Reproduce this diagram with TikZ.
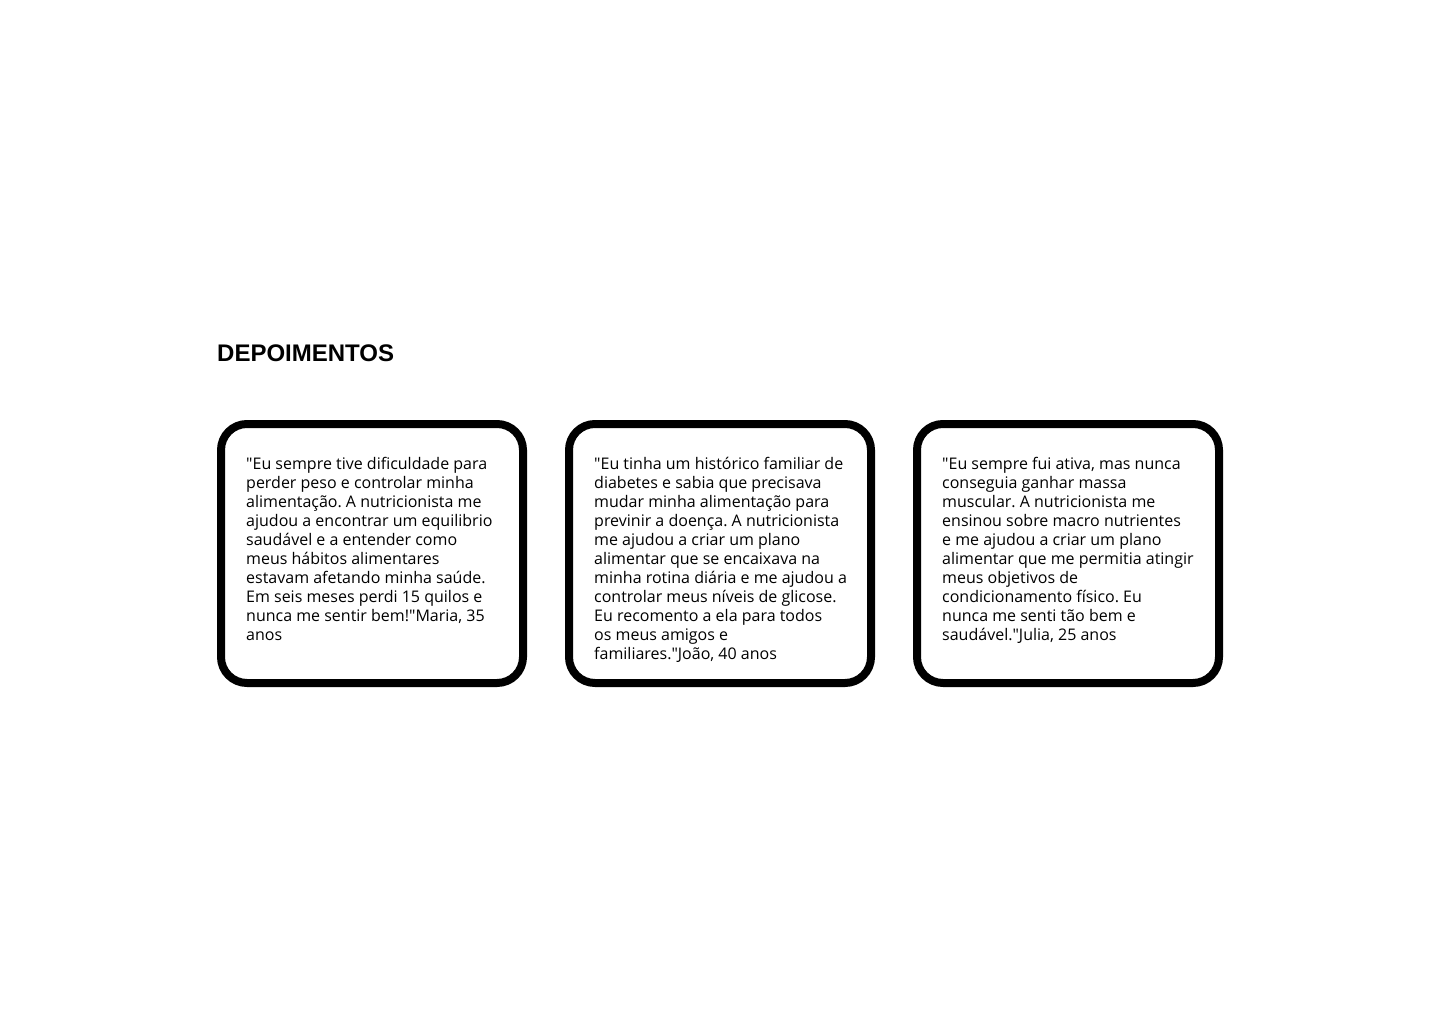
\documentclass[tikz,border=0pt]{standalone}
\usepackage{fontspec}
\setmainfont{Liberation Sans}
\newfontfamily\bodyfont{Open Sans}
\newcommand{\qm}{\char34\relax}
\frenchspacing
\begin{document}
\begin{tikzpicture}[x=1pt,y=-1pt]
\useasboundingbox[fill=white] (0,0) rectangle (1440,1024);
\tikzset{
  card/.style={draw=black, fill=white, line width=8pt, rounded corners=26pt,
    minimum width=302pt, minimum height=259pt, anchor=north west,
    inner sep=0pt, outer sep=0pt},
  quote/.style={anchor=base west, align=left, inner sep=0pt,
    font=\bodyfont\fontsize{16}{19}\selectfont\frenchspacing},
  heading/.style={anchor=base west, inner sep=0pt, font=\fontsize{24}{28}\selectfont\bfseries}
}
\node[heading] (title) at (217,361) {DEPOIMENTOS};

\node[card] (c1) at (221,424) {};
\node[card] (c2) at (569,424) {};
\node[card] (c3) at (917,424) {};

% anchored at the baseline of the last line (first line baseline 469, 19pt per line)
\node[quote] (t1) at (246,640) {\qm Eu sempre tive dificuldade para\\perder peso e controlar minha\\alimentação. A nutricionista me\\ajudou a encontrar um equilibrio\\saudável e a entender como\\meus hábitos alimentares\\estavam afetando minha saúde.\\Em seis meses perdi 15 quilos e\\nunca me sentir bem!\qm Maria, 35\\anos};

\node[quote] (t2) at (594,659) {\qm Eu tinha um histórico familiar de\\diabetes e sabia que precisava\\mudar minha alimentação para\\previnir a doença. A nutricionista\\me ajudou a criar um plano\\alimentar que se encaixava na\\minha rotina diária e me ajudou a\\controlar meus níveis de glicose.\\Eu recomento a ela para todos\\os meus amigos e\\familiares.\qm João, 40 anos};

\node[quote] (t3) at (942,640) {\qm Eu sempre fui ativa, mas nunca\\conseguia ganhar massa\\muscular. A nutricionista me\\ensinou sobre macro nutrientes\\e me ajudou a criar um plano\\alimentar que me permitia atingir\\meus objetivos de\\condicionamento físico. Eu\\nunca me senti tão bem e\\saudável.\qm Julia, 25 anos};
\end{tikzpicture}
\end{document}
